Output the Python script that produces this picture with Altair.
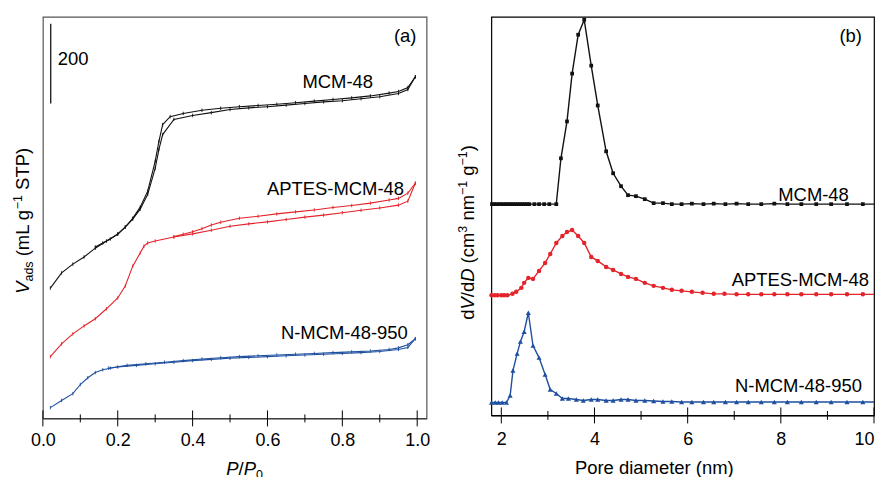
import altair as alt
import pandas as pd

FONT = "Liberation Sans"
BLACK = "#111111"
RED = "#e3242b"
BLUE = "#1f4f9f"

# ---------------- Panel (a): isotherms ----------------
series_names = ["MCM-48", "APTES-MCM-48", "N-MCM-48-950"]

mcm_ads_p = [0.02, 0.05, 0.08, 0.11, 0.14, 0.17, 0.20, 0.22, 0.24, 0.26, 0.28, 0.30, 0.31, 0.32,
             0.35, 0.40, 0.45, 0.50, 0.55, 0.60, 0.65, 0.70, 0.75, 0.80, 0.85, 0.90, 0.95, 0.975, 0.995]
mcm_ads_v = [327, 365, 387, 405, 427, 445, 462, 480, 500, 525, 562, 627, 675, 712,
             750, 760, 767, 775, 779, 782, 786, 790, 794, 797, 802, 807, 815, 825, 857]
mcm_des_p = [0.995, 0.975, 0.95, 0.925, 0.875, 0.825, 0.775, 0.725, 0.675, 0.625, 0.575, 0.525,
             0.475, 0.425, 0.375, 0.34, 0.32, 0.31, 0.30, 0.28, 0.26, 0.24, 0.22, 0.20, 0.18, 0.16, 0.14]
mcm_des_v = [857, 830, 820, 816, 809, 804, 800, 796, 792, 788, 785, 782,
             778, 773, 765, 757, 737, 695, 645, 570, 530, 502, 480, 463, 450, 440, 430]

apt_ads_p = [0.02, 0.05, 0.08, 0.11, 0.14, 0.17, 0.20, 0.22, 0.24, 0.26, 0.27, 0.28, 0.30, 0.35,
             0.40, 0.45, 0.50, 0.55, 0.60, 0.65, 0.70, 0.75, 0.80, 0.85, 0.90, 0.95, 0.975, 0.995]
apt_ads_v = [155, 187, 212, 232, 250, 275, 302, 332, 382, 415, 432, 440, 445, 455,
             463, 472, 482, 488, 493, 499, 505, 510, 516, 522, 528, 535, 545, 590]
apt_des_p = [0.995, 0.975, 0.95, 0.925, 0.875, 0.825, 0.775, 0.725, 0.675, 0.625, 0.575, 0.525,
             0.475, 0.45, 0.425, 0.40, 0.375, 0.35]
apt_des_v = [590, 565, 552, 548, 540, 534, 529, 523, 518, 513, 507, 502,
             492, 485, 476, 468, 462, 456]

nm_ads_p = [0.02, 0.05, 0.08, 0.10, 0.12, 0.14, 0.16, 0.18, 0.20, 0.25, 0.30, 0.35, 0.40, 0.45,
            0.50, 0.55, 0.60, 0.65, 0.70, 0.75, 0.80, 0.85, 0.90, 0.95, 0.975, 0.995]
nm_ads_v = [27, 45, 62, 85, 102, 115, 122, 126, 129, 133, 137, 141, 145, 148,
            151, 153, 155, 157, 159, 161, 163, 165, 168, 173, 178, 200]
nm_des_p = [0.995, 0.975, 0.95, 0.925, 0.875, 0.825, 0.775, 0.725, 0.675, 0.625, 0.575, 0.525,
            0.475, 0.425, 0.375, 0.325, 0.275, 0.225, 0.175]
nm_des_v = [200, 185, 177, 173, 169, 167, 165, 163, 161, 159, 157, 155,
            152, 149, 145, 141, 137, 133, 126]

# ---------------- Panel (b): pore size distributions ----------------
psd_mcm_d = [1.80, 1.85, 1.90, 1.95, 2.00, 2.05, 2.10, 2.15, 2.20, 2.25, 2.30, 2.35, 2.40, 2.45, 2.50,
             2.55, 2.60, 2.71, 2.81, 2.92, 3.03, 3.18, 3.28, 3.41, 3.52, 3.65, 3.78, 3.93, 4.07, 4.25,
             4.40, 4.57, 4.72, 4.89, 5.08, 5.27, 5.47, 5.66, 5.87, 6.09, 6.34, 6.56, 6.81, 7.05, 7.30,
             7.58, 7.86, 8.14, 8.44, 8.76, 9.08, 9.42, 9.76]
psd_mcm_v = [214, 214, 214, 214, 214, 214, 214, 214, 214, 214, 214, 214, 214, 214, 214,
             214, 214, 214, 214, 214, 214, 214, 260, 297, 345, 384, 399, 353, 313, 267,
             245, 232, 223, 222, 219, 215, 215, 214, 214, 214.5, 214, 214.5, 214, 214.5, 214,
             214, 214.5, 214, 214, 214, 214, 214, 214]

psd_apt_d = [1.79, 1.86, 1.92, 2.00, 2.06, 2.13, 2.24, 2.32, 2.43, 2.49, 2.58, 2.68, 2.81, 2.94,
             3.05, 3.18, 3.31, 3.41, 3.52, 3.65, 3.78, 3.93, 4.07, 4.25, 4.40, 4.57, 4.72, 4.89,
             5.08, 5.27, 5.47, 5.66, 5.87, 6.09, 6.32, 6.56, 6.79, 7.05, 7.30, 7.58, 7.86, 8.14,
             8.44, 8.76, 9.08, 9.42, 9.76]
psd_apt_v = [122.5, 122.5, 122.5, 122.5, 122.5, 122.5, 124, 126, 130, 135, 140, 139, 147, 155,
             164, 175, 182, 186, 188, 182, 175, 161, 157, 151, 148, 144, 141, 139,
             135, 132, 130, 128, 127, 126, 125, 124, 124, 123.5, 123.5, 123.5, 123.5, 123.5,
             123.5, 123.5, 123.5, 123.5, 123.5]

psd_nm_d = [1.79, 1.87, 1.94, 2.02, 2.11, 2.19, 2.25, 2.34, 2.41, 2.49, 2.58, 2.68, 2.81, 2.94,
            3.05, 3.18, 3.31, 3.44, 3.61, 3.76, 3.93, 4.07, 4.25, 4.40, 4.57, 4.72, 4.89, 5.08,
            5.27, 5.47, 5.66, 5.87, 6.09, 6.34, 6.56, 6.81, 7.05, 7.30, 7.58, 7.86, 8.14, 8.44,
            8.76, 9.08, 9.42, 9.76]
psd_nm_v = [15, 15, 15, 15, 15, 22, 47, 64, 76, 86, 105, 72, 60, 43,
            28, 24, 19, 19, 18, 17, 18, 18, 17, 17, 18, 18, 17, 17,
            16.5, 16, 16, 15.5, 15.5, 15.5, 15.5, 15.5, 15.5, 15.5, 15.5, 15.5, 15.5, 15.5,
            15.5, 15.5, 15.5, 15.5]
psd_end_d = 10.0
psd_end_v = {"MCM-48": 214, "APTES-MCM-48": 123.5, "N-MCM-48-950": 15.5}

x_major_a = [0.0, 0.2, 0.4, 0.6, 0.8, 1.0]
x_minor_a = [0.1, 0.3, 0.5, 0.7, 0.9]
x_major_b = [2, 4, 6, 8, 10]
x_minor_b = [3, 5, 7, 9]

# ---------------- build tables ----------------
rows = []
for name, ap, av, dp, dv in [
    ("MCM-48", mcm_ads_p, mcm_ads_v, mcm_des_p, mcm_des_v),
    ("APTES-MCM-48", apt_ads_p, apt_ads_v, apt_des_p, apt_des_v),
    ("N-MCM-48-950", nm_ads_p, nm_ads_v, nm_des_p, nm_des_v),
]:
    rows += [{"x": p, "y": v, "series": name, "branch": name + " ads"} for p, v in zip(ap, av)]
    rows += [{"x": p, "y": v, "series": name, "branch": name + " des"} for p, v in zip(dp, dv)]
df_a = pd.DataFrame(rows)

rows = []
for name, d, v in [("MCM-48", psd_mcm_d, psd_mcm_v), ("APTES-MCM-48", psd_apt_d, psd_apt_v),
                   ("N-MCM-48-950", psd_nm_d, psd_nm_v)]:
    rows += [{"x": a, "y": b, "series": name, "marker": True} for a, b in zip(d, v)]
    rows.append({"x": psd_end_d, "y": psd_end_v[name], "series": name, "marker": False})
df_b = pd.DataFrame(rows)

color = alt.Color("series:N", scale=alt.Scale(domain=series_names, range=[BLACK, RED, BLUE]), legend=None)

# ---------------- helpers ----------------
W = {" ": .278, "(": .333, ")": .333, "/": .278, "\u2212": .584, "0": .556, "1": .556, "3": .556,
     "a": .556, "d": .556, "s": .5, "m": .833, "L": .556, "g": .556, "S": .667, "T": .611,
     "P": .667, "V": .667, "D": .722, "c": .5, "n": .556}


def tw(s, fs):
    return sum(W.get(c, .556) for c in s) * fs


ONE = pd.DataFrame({"k": [0]})


def pieces_layers(pieces, x0, y0, vertical):
    layers = []
    pos = 0.0
    for text, fs, italic, shift in pieces:
        lead = len(text) - len(text.lstrip(" "))
        pos += tw(" " * lead, fs)
        t = text.strip(" ")
        if vertical:
            kw = dict(x=x0 + shift, y=y0 - pos, angle=270)
        else:
            kw = dict(x=x0 + pos, y=y0 + shift, angle=0)
        layers.append(
            alt.Chart(ONE).mark_text(text=t, align="left", baseline="alphabetic", fontSize=fs,
                                     fontStyle="italic" if italic else "normal", font=FONT,
                                     color="black", **kw).encode(opacity=alt.value(1))
        )
        pos += tw(t, fs)
    return layers


def tick_rules(data_x, xenc, h, half):
    return alt.Chart(pd.DataFrame({"x": data_x})).mark_rule(color="black", strokeWidth=1).encode(
        x=xenc, y=alt.value(h - half), y2=alt.value(h + half))


LABEL_FS = 18.5

# ---------------- panel (a) ----------------
WA, HA = 385, 403
xa = alt.X("x:Q", scale=alt.Scale(domain=[0, 1.025], nice=False, zero=False),
           axis=alt.Axis(values=x_major_a, format=".1f", ticks=False, grid=False, title=None,
                         domainColor="#333333", labelFontSize=18, labelFont=FONT, labelColor="black",
                         labelPadding=13, labelFlush=False, labelOverlap=False, labelBound=False))
ya = alt.Y("y:Q", scale=alt.Scale(domain=[0, 1007.5], nice=False, zero=False), axis=None)

lines_a = alt.Chart(df_a).mark_line(strokeWidth=1.1).encode(x=xa, y=ya, color=color, detail="branch:N")
pts_a = alt.Chart(df_a).mark_point(shape="M0,-1L0,1", size=12, filled=False, strokeWidth=0.9,
                                   opacity=1).encode(x=xa, y=ya, color=color)

scalebar = alt.Chart(pd.DataFrame({"x": [0.021], "y": [790], "y2": [990]})).mark_rule(
    color="black", strokeWidth=1.2).encode(x=xa, y=ya, y2="y2:Q")

lab_a = pd.DataFrame({
    "x": [0.882, 0.965, 0.975, 0.998],
    "y": [830, 560, 200, 945],
    "text": ["MCM-48", "APTES-MCM-48", "N-MCM-48-950", "(a)"],
})
text_a = alt.Chart(lab_a).mark_text(align="right", baseline="alphabetic", fontSize=LABEL_FS, font=FONT,
                                    color="black").encode(x=xa, y=ya, text="text:N")
bar_lab = alt.Chart(pd.DataFrame({"x": [0.04], "y": [887], "text": ["200"]})).mark_text(
    align="left", baseline="alphabetic", fontSize=LABEL_FS, font=FONT, color="black").encode(
    x=xa, y=ya, text="text:N")

ytitle_a = pieces_layers([("V", 18.5, True, 0), ("ads", 12.5, False, 4), (" (mL g", 18.5, False, 0),
                          ("\u22121", 12.5, False, -7), (" STP)", 18.5, False, 0)],
                         x0=-14, y0=278, vertical=True)
xtitle_a = pieces_layers([("P", 18.5, True, 0), ("/", 18.5, False, 0), ("P", 18.5, True, 0),
                          ("0", 12.5, False, 4)], x0=184, y0=HA + 57, vertical=False)

# invisible anchor that fixes the left edge of the layout (34 px left of the plot)
anchor = alt.Chart(ONE).mark_rule(opacity=0).encode(x=alt.value(-34), y=alt.value(100), y2=alt.value(110))

panel_a = alt.layer(
    lines_a, pts_a, scalebar, text_a, bar_lab,
    tick_rules(x_major_a, xa, HA, 8), tick_rules(x_minor_a, xa, HA, 4),
    *ytitle_a, *xtitle_a, anchor,
).properties(width=WA, height=HA, view=alt.ViewBackground(stroke="#555555", strokeWidth=1.2))

# ---------------- panel (b) ----------------
WB, HB = 384, 400
xb = alt.X("x:Q", scale=alt.Scale(domain=[1.786, 10], nice=False, zero=False),
           axis=alt.Axis(values=x_major_b, format="d", ticks=False, grid=False,
                         title="Pore diameter (nm)", titleFontSize=18.5, titleFont=FONT,
                         titleFontWeight="normal", titleColor="black", titleX=163, titleY=58,
                         titleAlign="center", titleBaseline="alphabetic",
                         domainColor="black", labelFontSize=18, labelFont=FONT, labelColor="black",
                         labelPadding=15, labelFlush=True, labelOverlap=False, labelBound=False))
yb = alt.Y("y:Q", scale=alt.Scale(domain=[2, 402], nice=False, zero=False), axis=None)

lines_b = alt.Chart(df_b).mark_line(strokeWidth=1.4).encode(x=xb, y=yb, color=color, detail="series:N")
shape = alt.Shape("series:N", scale=alt.Scale(domain=series_names, range=["square", "circle", "triangle-up"]),
                  legend=None)
size = alt.Size("series:N", scale=alt.Scale(domain=series_names, range=[14, 26, 34]), legend=None)
pts_b = alt.Chart(df_b).transform_filter("datum.marker").mark_point(filled=True, opacity=1).encode(
    x=xb, y=yb, color=color, shape=shape, size=size)

lab_b = pd.DataFrame({
    "x": [9.46, 9.89, 9.74, 9.74],
    "y": [217, 132, 25, 377],
    "text": ["MCM-48", "APTES-MCM-48", "N-MCM-48-950", "(b)"],
})
text_b = alt.Chart(lab_b).mark_text(align="right", baseline="alphabetic", fontSize=LABEL_FS, font=FONT,
                                    color="black").encode(x=xb, y=yb, text="text:N")

ytitle_b = pieces_layers([("d", 18.5, False, 0), ("V", 18.5, True, 0), ("/d", 18.5, False, 0),
                          ("D", 18.5, True, 0), (" (cm", 18.5, False, 0), ("3", 12.5, False, -7),
                          (" nm", 18.5, False, 0), ("\u22121", 12.5, False, -7), (" g", 18.5, False, 0),
                          ("\u22121", 12.5, False, -7), (")", 18.5, False, 0)],
                         x0=-17, y0=304, vertical=True)

panel_b = alt.layer(
    lines_b, pts_b, text_b,
    tick_rules(x_major_b, xb, HB, 8), tick_rules(x_minor_b, xb, HB, 4.5),
    *ytitle_b,
).properties(width=WB, height=HB, view=alt.ViewBackground(stroke="black", strokeWidth=1.2))

chart = alt.hconcat(panel_a, panel_b, spacing=65, bounds="flush").properties(
    padding={"left": 0, "top": 7, "right": 0, "bottom": 0},
).configure(font=FONT)

chart.save("out.html", embed_options={"renderer": "svg", "actions": False})
